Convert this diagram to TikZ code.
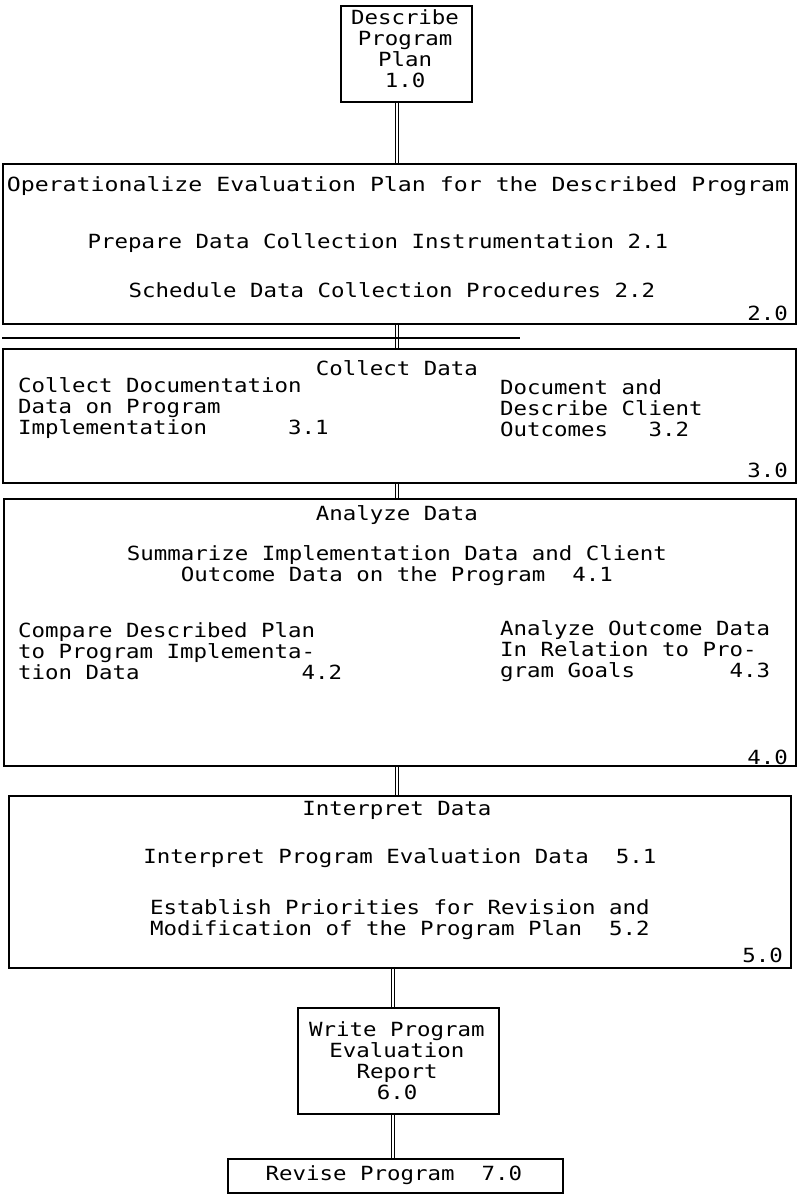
\documentclass[tikz,border=0pt]{standalone}
\usepackage{fontspec}
\newfontfamily\mono[FakeStretch=1.15]{DejaVu Sans Mono}
\newfontfamily\monowide[FakeStretch=1.19]{DejaVu Sans Mono}
\begin{document}
\begin{tikzpicture}[x=1pt,y=-1pt,
  box/.style={draw, line width=1.9pt, inner sep=0pt, anchor=north west},
  txt/.style={font=\mono\fontsize{19.5}{21}\selectfont, inner sep=0pt},
  wide/.style={font=\monowide\fontsize{19.5}{21}\selectfont, inner sep=0pt},
  conn/.style={draw, line width=1.3pt, double, double distance=1.4pt},
  rule/.style={line width=1.3pt}]
\useasboundingbox[fill=white] (0,0) rectangle (797,1201);

% boxes
\node[box, minimum width=131pt, minimum height=96pt]  (b1) at (340,5) {};
\node[box, minimum width=793pt, minimum height=160pt] (b2) at (2,163) {};
\node[box, minimum width=793pt, minimum height=134pt] (b3) at (2,348) {};
\node[box, minimum width=792pt, minimum height=267pt] (b4) at (3,498) {};
\node[box, minimum width=782pt, minimum height=172pt] (b5) at (8,795) {};
\node[box, minimum width=201pt, minimum height=106pt] (b6) at (297,1007) {};
\node[box, minimum width=335pt, minimum height=34pt]  (b7) at (227,1158) {};

% vertical connectors
\coordinate (spine) at (397,0);
\coordinate (spinelow) at (393,0);
\draw[conn] (b1.south -| spine) -- (b2.north -| spine);
\draw[conn] (b2.south -| spine) -- (b3.north -| spine);
\draw[conn] (b3.south -| spine) -- (b4.north -| spine);
\draw[conn] (b4.south -| spine) -- (b5.north -| spine);
\draw[conn] (b5.south -| spinelow) -- (b6.north -| spinelow);
\draw[conn] (b6.south -| spinelow) -- (b7.north -| spinelow);

% extra rule between steps 2 and 3
\coordinate (ruleend) at (520,338);
\draw[rule] (b2.west |- ruleend) -- (ruleend);

% 1.0
\node[txt, align=center] (t1) at (405,49) {Describe\\Program\\Plan\\1.0};

% 2.0
\node[wide] (t2) at (398,186) {Operationalize Evaluation Plan for the Described Program};
\node[txt] (t21) at (378,243) {Prepare Data Collection Instrumentation 2.1};
\node[txt] (t22) at (392,290) {Schedule Data Collection Procedures 2.2};
\node[txt, anchor=east] (n2) at (788,313) {2.0};

% 3.0
\node[txt] (t3) at (397,368) {Collect Data};
\node[txt, align=left, anchor=west] (t31) at (18,408)
  {Collect Documentation\\Data on Program\\Implementation~~~~~~3.1};
\node[txt, align=left, anchor=west] (t32) at (500,408)
  {Document and\\Describe Client\\Outcomes~~~3.2};
\node[txt, anchor=east] (n3) at (788,470) {3.0};

% 4.0
\node[txt] (t4) at (397,515) {Analyze Data};
\node[txt, align=center] (t41) at (397,566)
  {Summarize Implementation Data and Client\\Outcome Data on the Program~~4.1};
\node[txt, align=left, anchor=west] (t42) at (18,651)
  {Compare Described Plan\\to Program Implementa-\\tion Data~~~~~~~~~~~~4.2};
\node[txt, align=left, anchor=west] (t43) at (500,651)
  {Analyze Outcome Data\\In Relation to Pro-\\gram Goals~~~~~~~4.3};
\node[txt, anchor=east] (n4) at (788,757) {4.0};

% 5.0
\node[txt] (t5) at (397,810) {Interpret Data};
\node[txt] (t51) at (400,858) {Interpret Program Evaluation Data~~5.1};
\node[txt, align=left] (t52) at (400,920)
  {Establish Priorities for Revision and\\Modification of the Program Plan~~5.2};
\node[txt, anchor=east] (n5) at (783,955) {5.0};

% 6.0
\node[txt, align=center] (t6) at (397,1061) {Write Program\\Evaluation\\Report\\6.0};

% 7.0
\node[txt] (t7) at (394,1175) {Revise Program~~7.0};
\end{tikzpicture}
\end{document}
